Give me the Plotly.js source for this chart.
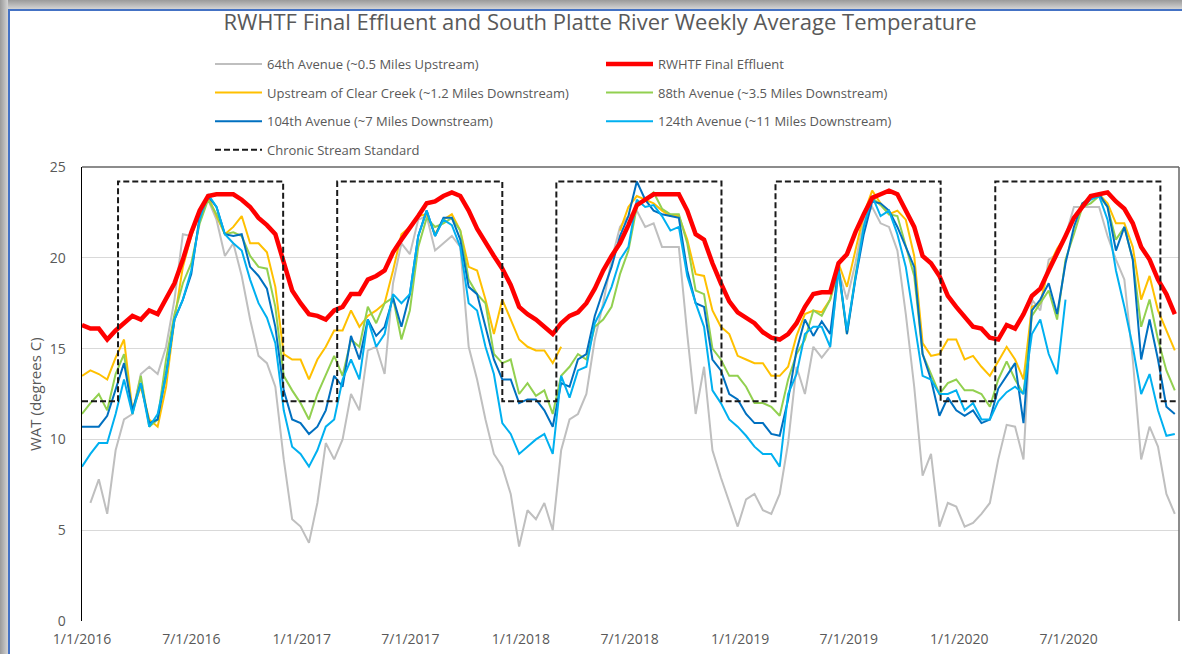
<!DOCTYPE html>
<html>
<head>
<meta charset="utf-8">
<script src="https://cdn.plot.ly/plotly-3.0.1.min.js"></script>
<style>
  html, body { margin: 0; padding: 0; background: #fff; }
  #wrap { position: relative; width: 1182px; height: 654px; overflow: hidden; }
  #chart { position: absolute; left: 0; top: 0; width: 1182px; height: 654px; }
  .chrome { position: absolute; pointer-events: none; }
</style>
</head>
<body>
<div id="wrap">
  <div id="chart"></div>
  <div class="chrome" style="left:0;top:0;width:1182px;height:9px;background:linear-gradient(#9a9a9a,#d4d4d4);"></div>
  <div class="chrome" style="left:0;top:0;width:8px;height:654px;background:linear-gradient(90deg,#9a9a9a,#d4d4d4);"></div>
  <div class="chrome" style="left:8px;top:9px;width:1174px;height:2px;background:#4472C4;"></div>
  <div class="chrome" style="left:8px;top:9px;width:2px;height:645px;background:#4472C4;"></div>
</div>
<script>
// ---- Data (weekly averages read every 2 weeks from 1/1/2016) ----
const startDate = '2016-01-01';
const stepDays = 14;

const ave64th = [null,6.5,7.8,5.9,9.4,11.1,11.4,13.6,14.0,13.6,15.1,17.7,21.3,21.2,22.6,23.2,22.1,20.1,20.8,19.0,16.6,14.6,14.2,12.9,8.9,5.6,5.2,4.3,6.5,9.8,8.9,10.0,12.5,11.6,14.9,15.1,13.6,18.6,20.8,20.2,22.1,22.3,20.4,20.8,21.2,20.6,15.1,13.3,11.1,9.2,8.5,7.0,4.1,6.1,5.6,6.5,5.0,9.4,11.1,11.4,12.5,15.5,17.5,19.9,21.7,22.3,22.6,21.7,21.9,20.6,20.6,20.6,15.8,11.4,14.0,9.4,7.9,6.5,5.2,6.7,7.0,6.1,5.9,7.0,9.8,14.0,12.5,15.1,14.5,15.1,19.3,17.7,19.7,22.1,22.8,21.9,21.7,20.4,16.9,12.9,8.0,9.2,5.2,6.5,6.3,5.2,5.4,5.9,6.5,8.9,10.8,10.7,8.9,17.7,17.1,19.9,20.2,21.2,22.8,22.8,22.8,22.8,21.2,19.9,18.8,14.4,8.9,10.7,9.6,7.0,5.9];

const effluent = [16.3,16.1,16.1,15.5,16.0,16.4,16.8,16.6,17.1,16.9,17.7,18.6,19.9,21.4,22.6,23.4,23.5,23.5,23.5,23.2,22.8,22.2,21.8,21.3,19.7,18.2,17.5,16.9,16.8,16.6,17.1,17.3,18.0,18.0,18.8,19.0,19.3,20.3,21.0,21.6,22.3,23.0,23.1,23.4,23.6,23.4,22.6,21.6,20.8,20.1,19.4,18.5,17.3,16.9,16.6,16.2,15.8,16.4,16.8,17.0,17.5,18.3,19.3,20.1,20.8,21.8,22.9,23.2,23.5,23.5,23.5,23.5,22.6,21.3,21.0,19.7,18.6,17.6,17.0,16.7,16.4,15.9,15.6,15.5,15.8,16.4,17.3,18.0,18.1,18.1,19.7,20.2,21.4,22.4,23.3,23.5,23.7,23.5,22.6,21.7,20.1,19.7,19.0,17.9,17.3,16.7,16.2,16.1,15.6,15.5,16.3,16.1,16.9,17.9,18.3,19.3,20.2,21.2,22.2,22.8,23.4,23.5,23.6,23.1,22.7,21.9,20.6,19.9,18.8,18.0,16.9];

const clearCreek = [13.5,13.8,13.6,13.3,14.5,15.5,11.6,12.9,11.1,10.7,12.9,16.6,19.5,21.2,22.4,23.4,22.3,21.3,21.7,22.3,20.8,20.8,20.3,18.4,14.7,14.4,14.4,13.3,14.4,15.1,16.0,16.0,17.1,16.2,16.8,17.1,17.5,19.3,21.3,21.7,22.3,22.4,21.3,22.1,22.4,21.5,19.5,19.3,17.7,15.8,17.7,16.6,15.5,15.1,14.9,14.9,14.2,15.1,null,null,null,null,null,null,21.5,22.8,23.4,23.2,23.0,22.6,22.3,22.3,21.0,19.1,19.0,17.1,16.2,15.8,14.6,14.4,14.2,14.2,13.5,13.5,14.0,15.7,16.9,17.1,17.0,17.7,19.7,18.4,20.4,22.4,23.7,23.0,22.4,22.6,22.1,20.1,15.3,14.6,14.7,15.5,15.5,14.4,14.6,14.0,13.5,14.3,15.1,14.4,13.3,17.3,17.5,19.5,20.5,21.2,22.1,23.0,23.3,23.5,23.0,21.9,21.9,20.6,17.7,19.0,17.1,16.0,14.9];

const ave88th = [11.4,12.0,12.5,11.6,13.6,14.7,11.4,13.5,10.7,11.1,14.4,16.9,18.6,19.7,21.9,23.2,22.4,21.3,21.4,21.2,20.1,19.5,19.4,17.3,13.5,12.7,12.0,11.1,12.5,13.6,14.6,13.5,15.5,15.1,17.3,16.4,17.5,17.8,15.5,17.1,20.6,22.2,21.7,21.9,22.2,21.5,18.8,18.0,17.5,14.7,14.2,14.4,12.5,13.1,12.4,12.7,11.4,13.5,14.0,14.7,14.4,16.2,16.6,17.3,19.1,20.4,22.8,23.2,23.6,22.7,22.4,22.4,20.8,18.2,18.0,15.0,14.4,13.5,13.5,12.9,12.0,12.0,11.8,11.3,13.3,14.7,15.5,17.1,16.8,17.7,19.3,15.8,19.0,21.7,23.3,22.9,22.4,22.3,20.6,19.0,14.7,13.6,12.5,13.1,13.3,12.7,12.7,12.5,11.8,13.3,14.3,13.3,12.5,16.8,17.5,18.2,16.6,19.9,21.3,22.8,23.0,23.4,22.8,21.0,21.7,19.9,16.2,17.7,15.5,13.8,12.7];

const ave104th = [10.7,10.7,10.7,11.3,12.7,14.2,11.6,13.1,10.9,11.1,13.6,16.6,17.7,19.1,22.3,23.4,22.8,21.3,21.2,21.3,19.5,19.0,18.3,16.2,12.7,11.1,10.9,10.3,10.7,11.6,13.5,12.9,15.7,14.4,16.6,15.7,16.2,17.8,16.2,18.0,21.2,22.6,21.2,22.2,22.2,21.0,18.4,18.0,16.2,14.4,13.3,13.3,12.0,12.2,12.2,11.6,10.7,13.1,12.9,14.4,14.7,16.8,18.2,19.5,21.2,22.3,24.2,23.2,22.6,22.4,22.3,22.2,19.3,17.5,17.3,14.4,13.8,12.5,12.2,11.4,10.9,10.9,10.3,10.2,12.2,14.9,16.6,15.7,16.5,15.8,19.5,15.8,18.8,21.3,23.1,23.0,22.6,21.7,20.6,19.5,14.7,13.3,11.3,12.3,11.6,11.3,11.6,10.9,11.1,12.8,13.5,14.2,10.9,17.1,17.7,18.6,16.9,19.7,21.7,23.0,23.3,23.5,22.8,20.4,21.7,19.9,14.4,16.6,14.4,11.8,11.4];

const ave124th = [8.5,9.2,9.8,9.8,11.4,13.3,11.4,13.1,10.7,11.4,13.5,16.6,17.7,19.3,22.1,23.5,22.8,21.3,20.8,20.4,18.8,17.5,16.7,15.3,11.6,9.6,9.2,8.5,9.4,10.7,11.1,13.3,14.4,13.3,16.6,15.1,15.8,18.0,17.5,18.0,21.2,22.6,21.2,22.1,21.8,20.6,17.5,17.1,15.1,13.6,10.9,10.3,9.2,9.6,10.0,10.3,9.2,13.5,12.3,13.8,14.0,16.4,17.3,18.4,19.9,20.6,23.2,22.8,22.9,22.3,21.5,21.7,19.0,17.5,16.2,12.7,12.0,11.1,10.7,10.2,9.6,9.2,9.2,8.5,12.5,13.6,15.8,16.2,16.2,15.1,19.3,16.0,18.8,21.7,23.4,22.3,22.6,21.3,19.5,16.4,13.5,13.3,12.5,12.5,12.7,11.6,12.0,11.1,11.1,12.1,12.6,12.9,12.5,15.8,16.6,14.7,13.6,17.7,null,22.8,23.2,23.4,22.1,19.3,17.3,15.1,12.5,13.6,11.6,10.2,10.3];

// Chronic stream standard (step: value holds from each date until the next)
const stdDates = ['2016-01-01','2016-03-01','2016-12-01','2017-03-01','2017-12-01','2018-03-01','2018-12-01','2019-03-01','2019-12-01','2020-03-01','2020-12-01','2020-12-31'];
const stdValues = [12.1,24.2,12.1,24.2,12.1,24.2,12.1,24.2,12.1,24.2,12.1,12.1];

const tickDates = ['2016-01-01','2016-07-01','2017-01-01','2017-07-01','2018-01-01','2018-07-01','2019-01-01','2019-07-01','2020-01-01','2020-07-01'];
const tickLabels = ['1/1/2016','7/1/2016','1/1/2017','7/1/2017','1/1/2018','7/1/2018','1/1/2019','7/1/2019','1/1/2020','7/1/2020'];

// ---- Build dates ----
function buildDates(n) {
  const t0 = Date.parse(startDate + 'T00:00:00Z');
  const out = [];
  for (let i = 0; i < n; i++) out.push(new Date(t0 + i * stepDays * 86400000).toISOString().slice(0, 10));
  return out;
}
const dates = buildDates(effluent.length);

const FONT = 'Open Sans, Noto Sans, sans-serif';
const TXT = '#595959';

function series(name, y, color, width, legend, rank) {
  return {
    type: 'scatter', mode: 'lines', name: name, x: dates, y: y,
    line: {color: color, width: width}, connectgaps: false,
    legend: legend, legendrank: rank, legendgroup: name, hoverinfo: 'x+y+name'
  };
}

const traces = [
  series('64th Avenue (~0.5 Miles Upstream)', ave64th, '#BFBFBF', 2, 'legend', 1),
  series('Upstream of Clear Creek (~1.2 Miles Downstream)', clearCreek, '#FFC000', 2, 'legend', 2),
  series('88th Avenue (~3.5 Miles Downstream)', ave88th, '#92D050', 2, 'legend2', 2),
  series('104th Avenue (~7 Miles Downstream)', ave104th, '#0070C0', 2, 'legend', 3),
  series('124th Avenue (~11 Miles Downstream)', ave124th, '#00B0F0', 2, 'legend2', 3),
  series('RWHTF Final Effluent', effluent, '#FF0000', 4.5, 'legend2', 1),
  {
    type: 'scatter', mode: 'lines', name: 'Chronic Stream Standard', x: stdDates, y: stdValues,
    line: {color: '#1a1a1a', width: 2, dash: '6px,3px', shape: 'hv'},
    legend: 'legend', legendrank: 4, legendgroup: 'std'
  }
];

const legendCommon = {
  xref: 'container', yref: 'container', xanchor: 'left', yanchor: 'top',
  orientation: 'v', traceorder: 'grouped', tracegroupgap: 8.7,
  font: {family: FONT, size: 13, color: TXT}, bgcolor: 'rgba(0,0,0,0)', itemwidth: 47
};

const layout = {
  width: 1182, height: 654,
  margin: {l: 82, r: 3, t: 167, b: 33, pad: 0, autoexpand: false},
  paper_bgcolor: '#ffffff', plot_bgcolor: '#ffffff',
  font: {family: FONT, color: TXT},
  showlegend: true,
  title: {
    text: 'RWHTF Final Effluent and South Platte River Weekly Average Temperature',
    font: {family: FONT, size: 22, color: TXT},
    xref: 'container', x: 600 / 1182, xanchor: 'center',
    yref: 'container', y: 1 - 22 / 654, yanchor: 'middle'
  },
  legend: Object.assign({}, legendCommon, {x: 210 / 1182, y: 1 - 49 / 654}),
  legend2: Object.assign({}, legendCommon, {x: 601 / 1182, y: 1 - 49 / 654}),
  xaxis: {
    type: 'date', range: ['2016-01-01', '2021-01-01'],
    tickmode: 'array', tickvals: tickDates, ticktext: tickLabels,
    showgrid: false, zeroline: false, showline: false,
    ticks: 'outside', ticklen: 5, tickcolor: 'rgba(0,0,0,0)',
    tickfont: {family: FONT, size: 14, color: TXT}
  },
  yaxis: {
    range: [0, 25], tickvals: [0, 5, 10, 15, 20, 25],
    showgrid: true, gridcolor: '#D9D9D9', gridwidth: 1, zeroline: false,
    showline: true, linecolor: '#000000', linewidth: 1.5,
    ticks: 'outside', ticklen: 12, tickcolor: 'rgba(0,0,0,0)',
    tickfont: {family: FONT, size: 14, color: TXT}
  },
  annotations: [{
    text: 'WAT (degrees C)', textangle: -90, showarrow: false,
    xref: 'paper', yref: 'paper', x: (35 - 82) / 1097, y: 0.5,
    xanchor: 'center', yanchor: 'middle',
    font: {family: FONT, size: 15, color: TXT}
  }],
  shapes: [
    {type: 'line', xref: 'paper', yref: 'paper', x0: 0, x1: 1, y0: 1, y1: 1, line: {color: '#666666', width: 1.5}},
    {type: 'line', xref: 'paper', yref: 'paper', x0: 1, x1: 1, y0: 0, y1: 1, line: {color: '#666666', width: 1.5}}
  ]
};

Plotly.newPlot('chart', traces, layout, {displayModeBar: false, staticPlot: true});
</script>
</body>
</html>
